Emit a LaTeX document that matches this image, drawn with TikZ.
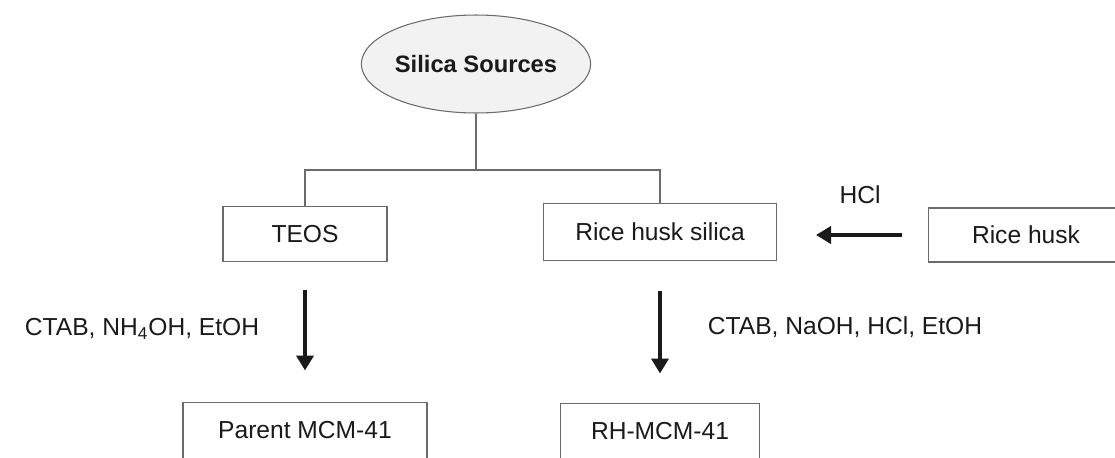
\documentclass[tikz,border=0pt]{standalone}
\usepackage{fontspec}
\setmainfont{Liberation Sans}
\usetikzlibrary{arrows.meta, positioning, shapes.geometric}
\definecolor{edge}{HTML}{6B6B6B}
\definecolor{ink}{HTML}{1A1A1A}
\definecolor{shade}{HTML}{F2F2F2}

\begin{document}
\begin{tikzpicture}[
  x=0.02cm, y=-0.02cm,
  stage/.style={
    rectangle, draw=edge, line width=0.6pt, fill=white, inner sep=0pt,
    minimum height=1.1cm, font=\fontsize{14}{17}\selectfont, text=ink,
  },
  source/.style={
    ellipse, draw=edge, line width=0.6pt, fill=shade, inner sep=0pt,
    minimum width=4.26cm, minimum height=1.96cm, font=\fontsize{13.5}{16}\selectfont\bfseries, text=ink,
  },
  reagent/.style={font=\fontsize{14}{17}\selectfont, text=ink, inner sep=0pt},
  arrow/.style={-{Triangle[length=3mm, width=3.4mm]}, line width=2.2pt, color=ink},
  link/.style={edge, line width=0.6pt},
]
\useasboundingbox (0,0) rectangle (1115,457);
\node[source] (src) at (476,64) {Silica Sources};
\node[stage, minimum width=3.28cm] (teos) at (305,234) {TEOS};
\node[stage, minimum width=4.66cm, minimum height=1.14cm] (rhs) at (660,232) {Rice husk silica};
\node[stage, minimum width=3.92cm, minimum height=1.08cm] (husk) at (1026,235) {Rice husk};
\node[stage, minimum width=4.88cm, minimum height=1.12cm, below=2.8cm of teos] (parent) {Parent MCM-41};
\node[stage, minimum width=3.98cm, minimum height=1.12cm, below=2.84cm of rhs] (rhmcm) {RH-MCM-41};
% branches from the source
\coordinate (fork) at (476,170);
\draw[link] (src.south) -- (fork);
\draw[link] (teos.north) |- (fork) -| (rhs.north);
% treatment steps
\draw[arrow, shorten <=0.52cm, shorten >=0.78cm] (husk.west) -- (rhs.east |- husk.west);
\node[reagent] (hcl) at (860,195) {HCl};
\draw[arrow, shorten <=0.55cm, shorten >=0.63cm] (teos) -- (parent);
\node[reagent] (lreag) at (142,329) {CTAB, NH\textsubscript{4}OH, EtOH};
\draw[arrow, shorten <=0.59cm, shorten >=0.59cm] (rhs) -- (rhmcm);
\node[reagent] (rreag) at (845,327) {CTAB, NaOH, HCl, EtOH};
\end{tikzpicture}
\end{document}
